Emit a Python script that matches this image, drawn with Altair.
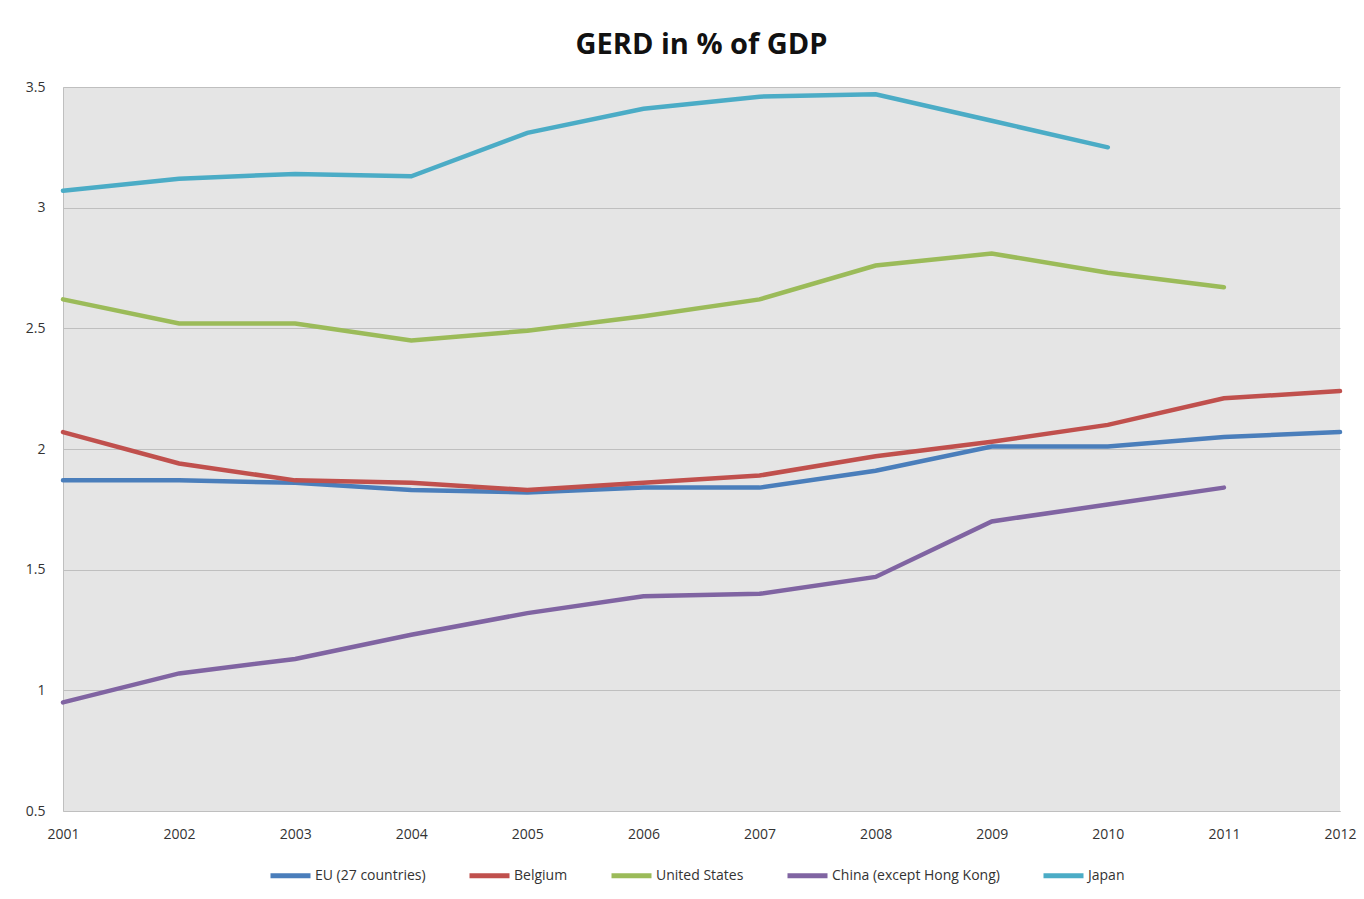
import altair as alt
import pandas as pd

years = list(range(2001, 2013))
series_names = ["EU (27 countries)", "Belgium", "United States", "China (except Hong Kong)", "Japan"]
colors = ["#4A7EBB", "#C0504D", "#9BBB59", "#8064A2", "#4BACC6"]

eu = [1.87, 1.87, 1.86, 1.83, 1.82, 1.84, 1.84, 1.91, 2.01, 2.01, 2.05, 2.07]
belgium = [2.07, 1.94, 1.87, 1.86, 1.83, 1.86, 1.89, 1.97, 2.03, 2.10, 2.21, 2.24]
usa = [2.62, 2.52, 2.52, 2.45, 2.49, 2.55, 2.62, 2.76, 2.81, 2.73, 2.67, None]
china = [0.95, 1.07, 1.13, 1.23, 1.32, 1.39, 1.40, 1.47, 1.70, 1.77, 1.84, None]
japan = [3.07, 3.12, 3.14, 3.13, 3.31, 3.41, 3.46, 3.47, 3.36, 3.25, None, None]

rows = []
for name, vals in zip(series_names, [eu, belgium, usa, china, japan]):
    for y, v in zip(years, vals):
        if v is not None:
            rows.append({"year": y, "value": v, "series": name})
df = pd.DataFrame(rows)

FONT = "Open Sans, sans-serif"

lines = alt.Chart(df).mark_line(strokeWidth=4.5, strokeCap="round").encode(
    x=alt.X("year:Q", scale=alt.Scale(domain=[2001, 2012], nice=False, zero=False),
            axis=alt.Axis(values=years, format="d", title=None, grid=False, ticks=False,
                          labelPadding=16, labelFontSize=14, labelColor="#333333",
                          labelFlush=False, labelBound=False, labelOverlap=False,
                          domainColor="#BFBFBF", labelFont=FONT)),
    y=alt.Y("value:Q", scale=alt.Scale(domain=[0.5, 3.5], nice=False, zero=False),
            axis=alt.Axis(values=[0.5, 1, 1.5, 2, 2.5, 3, 3.5], format=".1~f", title=None,
                          ticks=False, labelPadding=18, labelFontSize=14, labelColor="#333333",
                          gridColor="#BFBFBF", gridWidth=1.2, domainColor="#BFBFBF",
                          labelFont=FONT)),
    color=alt.Color("series:N", sort=series_names,
                    scale=alt.Scale(domain=series_names, range=colors),
                    legend=alt.Legend(title=None, orient="none", direction="horizontal",
                                      legendX=205, legendY=766, symbolType="stroke",
                                      symbolSize=1600, symbolStrokeWidth=5,
                                      labelFontSize=14, labelFont=FONT, labelColor="#333333",
                                      labelLimit=0, labelOffset=2, columnPadding=33)),
    detail="series:N",
)

chart = lines.properties(
    width=1277, height=724,
    title=alt.TitleParams("GERD in % of GDP", fontSize=29, font="Open Sans", fontWeight="bold",
                          color="#111111", offset=20, anchor="middle"),
).configure(
    autosize=alt.AutoSizeParams(type="none"),
    padding={"left": 63, "top": 87, "right": 24, "bottom": 88},
    background="white",
).configure_view(
    fill="#E5E5E5", stroke=None,
)

chart.save("out.html", embed_options={"renderer": "svg", "actions": False})
